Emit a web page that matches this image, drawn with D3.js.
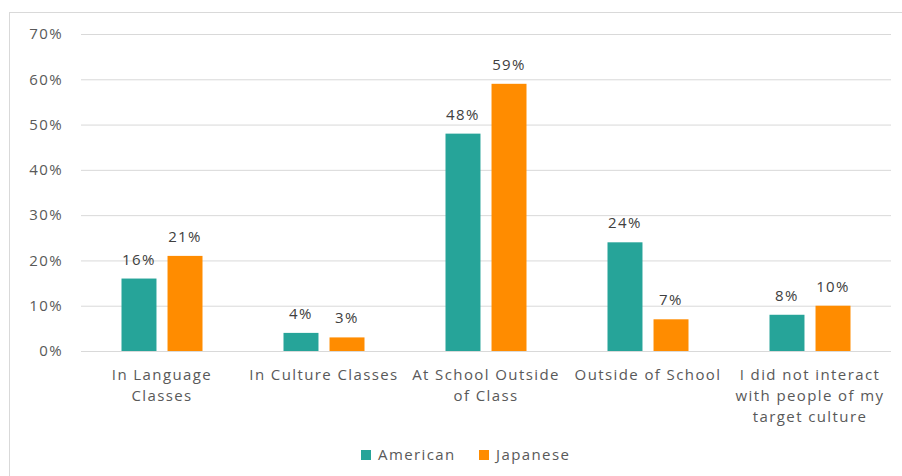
<!DOCTYPE html>
<html>
<head>
<meta charset="utf-8">
<script src="https://cdn.jsdelivr.net/npm/d3@7"></script>
<style>
  html, body { margin: 0; padding: 0; background: #fff; }
  svg { display: block; font-family: "Open Sans", "DejaVu Sans", sans-serif; }
  svg text { letter-spacing: 1.4px; }
</style>
</head>
<body>
<svg id="chart" width="902" height="476"></svg>
<script>
// Where students interacted with people of their target culture
const categories = [
  "In Language Classes",
  "In Culture Classes",
  "At School Outside of Class",
  "Outside of School",
  "I did not interact with people of my target culture"
];
const categoryLines = [
  ["In Language", "Classes"],
  ["In Culture Classes"],
  ["At School Outside", "of Class"],
  ["Outside of School"],
  ["I did not interact", "with people of my", "target culture"]
];
const seriesNames = ["American", "Japanese"];
const american = [0.16, 0.04, 0.48, 0.24, 0.08];
const japanese = [0.21, 0.03, 0.59, 0.07, 0.10];
const yTicks = [0, 0.1, 0.2, 0.3, 0.4, 0.5, 0.6, 0.7];
const colors = ["#26A499", "#FF8C00"];

const svg = d3.select("#chart");
const plotLeft = 81, plotRight = 891, plotTop = 34, plotBottom = 351;
const fontSize = "15px";

// Outer frame
svg.append("rect")
  .attr("x", 9.5).attr("y", 12.5)
  .attr("width", 902).attr("height", 480)
  .attr("fill", "#fff").attr("stroke", "#d9d9d9");

const y = d3.scaleLinear().domain([0, 0.7]).range([plotBottom, plotTop]);
const x0 = d3.scaleBand().domain(categories).range([plotLeft, plotRight])
  .paddingInner(0.5).paddingOuter(0.25);
const x1 = d3.scaleBand().domain(seriesNames).range([0, x0.bandwidth()])
  .paddingInner(0.24).paddingOuter(0);

// Y axis with gridlines
const yAxis = svg.append("g")
  .attr("transform", `translate(${plotLeft},0)`)
  .call(d3.axisLeft(y).tickValues(yTicks).tickFormat(d3.format(".0%"))
    .tickSize(-(plotRight - plotLeft)).tickPadding(18));
yAxis.select(".domain").remove();
yAxis.selectAll(".tick line").attr("stroke", "#d9d9d9").attr("stroke-width", 1);
yAxis.selectAll(".tick text")
  .attr("fill", "#595959").style("font-size", fontSize)
  .style("font-family", "'Open Sans', sans-serif");

// Bars
const rows = categories.map((c, i) => ({ cat: c, values: [american[i], japanese[i]] }));
const groups = svg.append("g").selectAll("g").data(rows).join("g")
  .attr("transform", d => `translate(${x0(d.cat)},0)`);

groups.selectAll("rect")
  .data(d => d.values.map((v, j) => ({ name: seriesNames[j], v, j })))
  .join("rect")
  .attr("x", d => x1(d.name))
  .attr("y", d => y(d.v))
  .attr("width", x1.bandwidth())
  .attr("height", d => y(0) - y(d.v))
  .attr("fill", d => colors[d.j]);

groups.selectAll("text.val")
  .data(d => d.values.map((v, j) => ({ name: seriesNames[j], v, j })))
  .join("text")
  .attr("class", "val")
  .attr("x", d => x1(d.name) + x1.bandwidth() / 2)
  .attr("y", d => y(d.v) - 14)
  .attr("text-anchor", "middle")
  .attr("fill", "#404040")
  .style("font-size", fontSize)
  .text(d => d3.format(".0%")(d.v));

// Category labels
const xl = svg.append("g");
categories.forEach((c, i) => {
  const cx = x0(c) + x0.bandwidth() / 2;
  const t = xl.append("text")
    .attr("x", cx)
    .attr("y", 380)
    .attr("text-anchor", "middle")
    .attr("fill", "#595959")
    .style("font-size", fontSize);
  categoryLines[i].forEach((line, k) => {
    t.append("tspan")
      .attr("x", cx)
      .attr("dy", k === 0 ? 0 : 21)
      .text(line);
  });
});

// Legend
const legendX = [361, 479];
const legend = svg.append("g");
seriesNames.forEach((s, i) => {
  legend.append("rect")
    .attr("x", legendX[i]).attr("y", 450)
    .attr("width", 10).attr("height", 10)
    .attr("fill", colors[i]);
  legend.append("text")
    .attr("x", legendX[i] + 17).attr("y", 460)
    .attr("fill", "#595959")
    .style("font-size", fontSize)
    .text(s);
});
</script>
</body>
</html>
